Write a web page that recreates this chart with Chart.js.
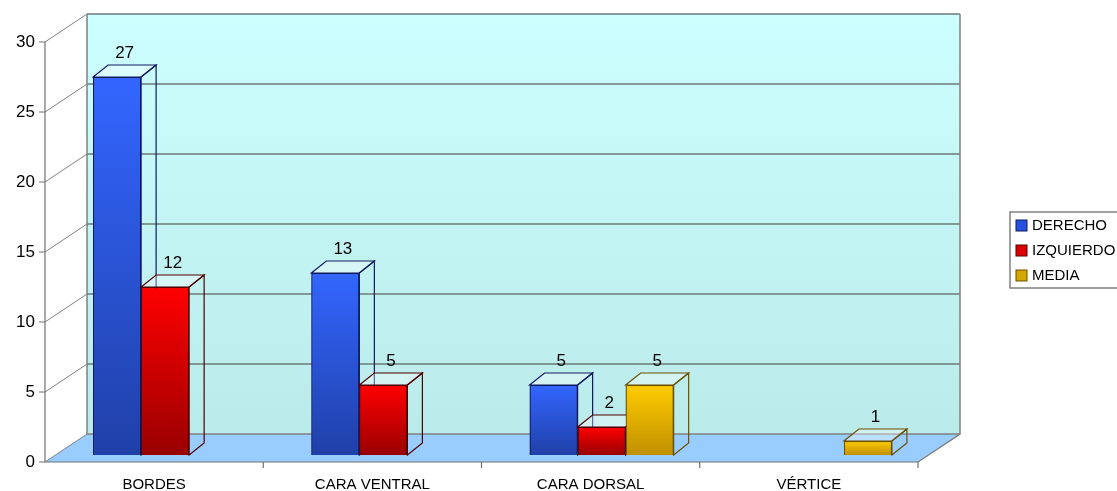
<!DOCTYPE html>
<html>
<head>
<meta charset="utf-8">
<script src="https://cdn.jsdelivr.net/npm/chart.js@4/dist/chart.umd.min.js"></script>
<style>
  html, body { margin: 0; padding: 0; background: #ffffff; }
  #wrap { width: 1117px; height: 491px; position: relative; }
</style>
</head>
<body>
<div id="wrap"><canvas id="lesiones"></canvas></div>
<script>
// Categories and series
const categories = ['BORDES', 'CARA VENTRAL', 'CARA DORSAL', 'VÉRTICE'];
const derecho = [27, 13, 5, null];
const izquierdo = [12, 5, 2, null];
const media = [null, null, 5, 1];
const yTicks = [0, 5, 10, 15, 20, 25, 30];

// Depth offsets (pixels) from the plane where the bar fronts sit
const FRONT = { dx: -11, dy: 7 };   // front edge of floor / axis
const BACK = { dx: 31, dy: -21 };   // back wall
const BAR_DEPTH = { dx: 15, dy: -12 };

const FONT = '"Liberation Sans", Arial, sans-serif';

function poly(ctx, pts) {
    ctx.beginPath();
    ctx.moveTo(pts[0][0], pts[0][1]);
    for (let i = 1; i < pts.length; i++) ctx.lineTo(pts[i][0], pts[i][1]);
    ctx.closePath();
}

// Vertical gradient running down each bar's own front face
function barGradient(top, bottom) {
    return (context) => {
        const chart = context.chart;
        const ys = chart.scales.y;
        if (!chart.chartArea || !ys || context.raw == null) return top;
        const yTop = ys.getPixelForValue(context.raw);
        const yBase = ys.getPixelForValue(0);
        if (!isFinite(yTop) || yBase - yTop < 1) return top;
        const g = chart.ctx.createLinearGradient(0, yTop, 0, yBase);
        g.addColorStop(0, top);
        g.addColorStop(1, bottom);
        return g;
    };
}

// Walls, floor and gridlines behind the bars
const box3d = {
    id: 'box3d',
    beforeDatasetsDraw(chart) {
        const { ctx, chartArea: a, scales: { y } } = chart;
        const y0 = y.getPixelForValue(0), yMax = y.getPixelForValue(30);
        const fl = a.left + FRONT.dx, fr = a.right + FRONT.dx;
        const bl = a.left + BACK.dx, br = a.right + BACK.dx;
        ctx.save();

        // back wall
        const wall = ctx.createLinearGradient(0, yMax + BACK.dy, 0, y0 + BACK.dy);
        wall.addColorStop(0, '#ccffff');
        wall.addColorStop(1, '#bbeaea');
        ctx.fillStyle = wall;
        ctx.fillRect(bl, yMax + BACK.dy, br - bl, y0 - yMax);

        // left wall
        ctx.fillStyle = '#ffffff';
        poly(ctx, [[fl, yMax + FRONT.dy], [bl, yMax + BACK.dy], [bl, y0 + BACK.dy], [fl, y0 + FRONT.dy]]);
        ctx.fill();

        // floor
        ctx.fillStyle = '#99ccff';
        poly(ctx, [[fl, y0 + FRONT.dy], [fr, y0 + FRONT.dy], [br, y0 + BACK.dy], [bl, y0 + BACK.dy]]);
        ctx.fill();

        // gridlines on the back wall and left wall
        yTicks.forEach(v => {
            const py = y.getPixelForValue(v);
            ctx.strokeStyle = v === 0 ? '#808080' : '#6a7a7a';
            ctx.lineWidth = 1.5;
            ctx.beginPath();
            ctx.moveTo(bl, py + BACK.dy);
            ctx.lineTo(br, py + BACK.dy);
            ctx.stroke();
            ctx.strokeStyle = '#808080';
            ctx.lineWidth = 1;
            ctx.beginPath();
            ctx.moveTo(fl, py + FRONT.dy);
            ctx.lineTo(bl, py + BACK.dy);
            ctx.stroke();
        });

        // wall edges
        ctx.strokeStyle = '#808080';
        ctx.lineWidth = 1.5;
        ctx.beginPath();
        ctx.moveTo(bl, y0 + BACK.dy);
        ctx.lineTo(bl, yMax + BACK.dy);
        ctx.moveTo(br, yMax + BACK.dy);
        ctx.lineTo(br, y0 + BACK.dy);
        ctx.lineTo(fr, y0 + FRONT.dy);
        ctx.stroke();

        // front axes with tick marks
        ctx.strokeStyle = '#707070';
        ctx.lineWidth = 1.2;
        ctx.beginPath();
        ctx.moveTo(fl, yMax + FRONT.dy);
        ctx.lineTo(fl, y0 + FRONT.dy);
        ctx.lineTo(fr, y0 + FRONT.dy);
        yTicks.forEach(v => {
            const py = y.getPixelForValue(v) + FRONT.dy;
            ctx.moveTo(fl - 6, py);
            ctx.lineTo(fl, py);
        });
        const step = a.width / categories.length;
        for (let i = 1; i <= categories.length; i++) {
            const px = fl + step * i;
            ctx.moveTo(px, y0 + FRONT.dy);
            ctx.lineTo(px, y0 + FRONT.dy + 6);
        }
        ctx.stroke();
        ctx.restore();
    },

    // sides and tops of the bars, series by series so each front face
    // covers the side of the bar to its left
    afterDatasetsDraw(chart) {
        const { ctx } = chart;
        chart.data.datasets.forEach((ds, di) => {
            const meta = chart.getDatasetMeta(di);
            meta.data.forEach((bar, i) => {
                if (ds.data[i] === null) return;
                bar.draw(ctx);
                const { x, y, base, width } = bar.getProps(['x', 'y', 'base', 'width'], true);
                const l = x - width / 2, r = x + width / 2;
                const { dx, dy } = BAR_DEPTH;
                ctx.save();
                ctx.strokeStyle = ds.borderColor;
                ctx.lineWidth = 1.2;
                ctx.fillStyle = 'rgba(255,255,255,0.35)';
                poly(ctx, [[l, y], [l + dx, y + dy], [r + dx, y + dy], [r, y]]);
                ctx.fill();
                ctx.stroke();
                poly(ctx, [[r, y], [r + dx, y + dy], [r + dx, base + dy], [r, base]]);
                ctx.stroke();
                ctx.restore();
            });
        });
    },

    afterDraw(chart) {
        const { ctx, chartArea: a, scales: { x, y } } = chart;
        ctx.save();
        ctx.fillStyle = '#000000';

        // value labels over each bar
        ctx.font = '17px ' + FONT;
        ctx.textAlign = 'center';
        ctx.textBaseline = 'bottom';
        chart.data.datasets.forEach((ds, di) => {
            chart.getDatasetMeta(di).data.forEach((bar, i) => {
                const v = ds.data[i];
                if (v === null) return;
                ctx.fillText(String(v), bar.x + BAR_DEPTH.dx / 2, bar.y + BAR_DEPTH.dy - 3);
            });
        });

        // y tick labels
        ctx.font = '17px ' + FONT;
        ctx.textAlign = 'right';
        ctx.textBaseline = 'middle';
        yTicks.forEach(v => {
            ctx.fillText(String(v), a.left + FRONT.dx - 10, y.getPixelForValue(v) + FRONT.dy);
        });

        // category labels
        ctx.font = '15px ' + FONT;
        ctx.textAlign = 'center';
        ctx.textBaseline = 'middle';
        categories.forEach((c, i) => {
            ctx.fillText(c, x.getPixelForValue(i) + FRONT.dx, y.getPixelForValue(0) + FRONT.dy + 23);
        });

        // legend
        const lx = 1010, ly = 212;
        ctx.fillStyle = '#ffffff';
        ctx.fillRect(lx, ly, 120, 76);
        ctx.strokeStyle = '#808080';
        ctx.lineWidth = 1.5;
        ctx.strokeRect(lx, ly, 120, 76);
        ctx.font = '15px ' + FONT;
        ctx.textAlign = 'left';
        chart.data.datasets.forEach((ds, di) => {
            const cy = ly + 13 + di * 25;
            ctx.fillStyle = ds.legendColor;
            ctx.fillRect(lx + 6, cy - 5, 11, 11);
            ctx.strokeStyle = ds.borderColor;
            ctx.lineWidth = 1;
            ctx.strokeRect(lx + 6, cy - 5, 11, 11);
            ctx.fillStyle = '#000000';
            ctx.fillText(ds.label, lx + 22, cy + 1);
        });
        ctx.restore();
    }
};

new Chart(document.getElementById('lesiones'), {
    type: 'bar',
    data: {
        labels: categories,
        datasets: [
            {
                label: 'DERECHO',
                data: derecho,
                backgroundColor: barGradient('#3366ff', '#2040a8'),
                legendColor: '#2850e0',
                borderColor: '#101a60',
                borderWidth: 1.2
            },
            {
                label: 'IZQUIERDO',
                data: izquierdo,
                backgroundColor: barGradient('#ff0000', '#990000'),
                legendColor: '#dd0000',
                borderColor: '#500000',
                borderWidth: 1.2
            },
            {
                label: 'MEDIA',
                data: media,
                backgroundColor: barGradient('#ffcc00', '#c09000'),
                legendColor: '#d4a800',
                borderColor: '#6a5000',
                borderWidth: 1.2
            }
        ]
    },
    options: {
        responsive: true,
        maintainAspectRatio: false,
        animation: false,
        layout: { padding: { left: 56, right: 188, top: 35, bottom: 36 } },
        datasets: { bar: { categoryPercentage: 0.66, barPercentage: 1.0 } },
        scales: {
            x: { display: false },
            y: { display: false, min: 0, max: 30 }
        },
        plugins: {
            legend: { display: false },
            tooltip: { enabled: false }
        }
    },
    plugins: [box3d]
});
</script>
</body>
</html>
